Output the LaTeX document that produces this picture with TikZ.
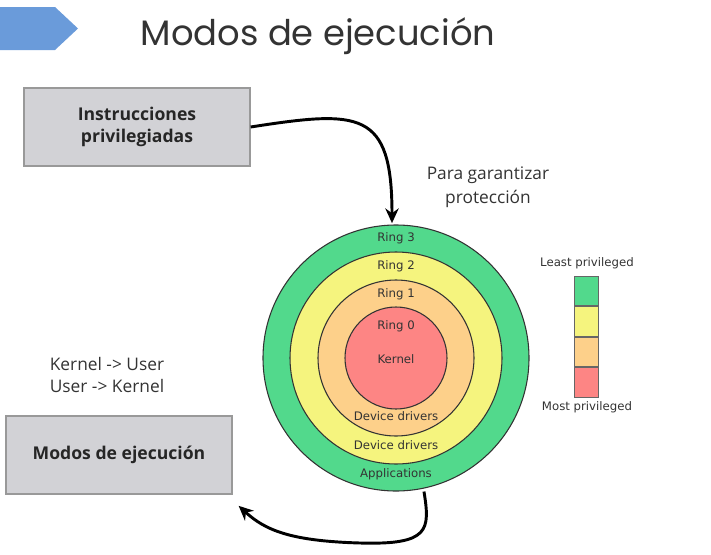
\documentclass[tikz,border=0pt]{standalone}
\usepackage{fontspec}
\setmainfont{Open Sans}
\newfontfamily\titlefont{Poppins}
\newfontfamily\ringfont{DejaVu Sans}
\usepackage{xcolor}
\usetikzlibrary{positioning, arrows.meta, shapes.geometric}

\definecolor{ringgreen}{HTML}{52D98C}
\definecolor{ringyellow}{HTML}{F5F47E}
\definecolor{ringorange}{HTML}{FDD08A}
\definecolor{ringred}{HTML}{FD8584}
\definecolor{boxgray}{HTML}{D2D2D6}
\definecolor{tagblue}{HTML}{6A9BDA}

\begin{document}
\begin{tikzpicture}[
        x=0.75pt, y=-0.75pt,
        box/.style={draw=gray!80, line width=1pt, fill=boxgray, minimum width=169.5pt, minimum height=58.5pt, align=center, font=\fontsize{13.2}{17}\selectfont\bfseries, text=black!85},
        ring/.style={circle, draw=black!80, line width=0.8pt, fill=#1, inner sep=0pt},
        rlabel/.style={font=\ringfont\fontsize{8.8}{10}\selectfont, text=black!80},
        cell/.style={draw=black!60, line width=0.6pt, fill=#1, minimum width=18pt, minimum height=22.2pt, inner sep=0pt},
        note/.style={font=\fontsize{13}{18}\selectfont, text=black!80, align=center},
        arr/.style={-{Stealth[length=11pt, width=10pt]}, line width=2.2pt},
    ]
    \useasboundingbox (0,0) rectangle (711,554);

    % Title tag and title
    \fill[tagblue] (0,7) -- (55,7) -- (78,28.5) -- (55,50) -- (0,50) -- cycle;
    \node[font=\titlefont\fontsize{26.5}{30}\selectfont, text=black!80] (title) at (318,36) {Modos de ejecución};

    % Boxes
    \node[box] (instr) at (137,127) {Instrucciones\\privilegiadas};
    \node[box] (modos) at (119,455) {Modos de ejecución};

    % Notes
    \node[note] (para) at (488,187) {Para garantizar\\protección};
    \node[note, align=left, font=\fontsize{13}{17}\selectfont] (trans) at (107,375) {Kernel -> User\\User -> Kernel};

    % Rings
    \node[ring=ringgreen, minimum size=199.5pt] (ring3) at (396,358) {};
    \node[ring=ringyellow, minimum size=159pt] (ring2) at (396,358) {};
    \node[ring=ringorange, minimum size=117pt] (ring1) at (396,358) {};
    \node[ring=ringred, minimum size=76.5pt] (ring0) at (396,358) {};

    \node[rlabel] (r3) at (396,238) {Ring 3};
    \node[rlabel] (r2) at (396,266) {Ring 2};
    \node[rlabel] (r1) at (396,294) {Ring 1};
    \node[rlabel] (r0) at (396,326) {Ring 0};
    \node[rlabel] (kern) at (396,359) {Kernel};
    \node[rlabel] (dd1) at (396,416) {Device drivers};
    \node[rlabel] (dd2) at (396,445) {Device drivers};
    \node[rlabel] (apps) at (396,474) {Applications};

    % Legend
    \node[cell=ringgreen] (c3) at (586,291) {};
    \node[cell=ringyellow, below=0pt of c3] (c2) {};
    \node[cell=ringorange, below=0pt of c2] (c1) {};
    \node[cell=ringred, below=0pt of c1] (c0) {};
    \node[rlabel] (least) at (587,263) {Least privileged};
    \node[rlabel] (most) at (587,407) {Most privileged};

    % Arrows
    \draw[arr] (instr.east) .. controls (360,110) and (392,110) .. ([yshift=1pt]ring3.north -| 392,0);
    \draw[arr, shorten >=2pt] ([xshift=21pt]ring3.south) .. controls (430,530) and (430,545) .. (360,543)
        .. controls (290,541) and (265,530) .. ([shift={(3pt,-7pt)}]modos.south east);
\end{tikzpicture}
\end{document}
